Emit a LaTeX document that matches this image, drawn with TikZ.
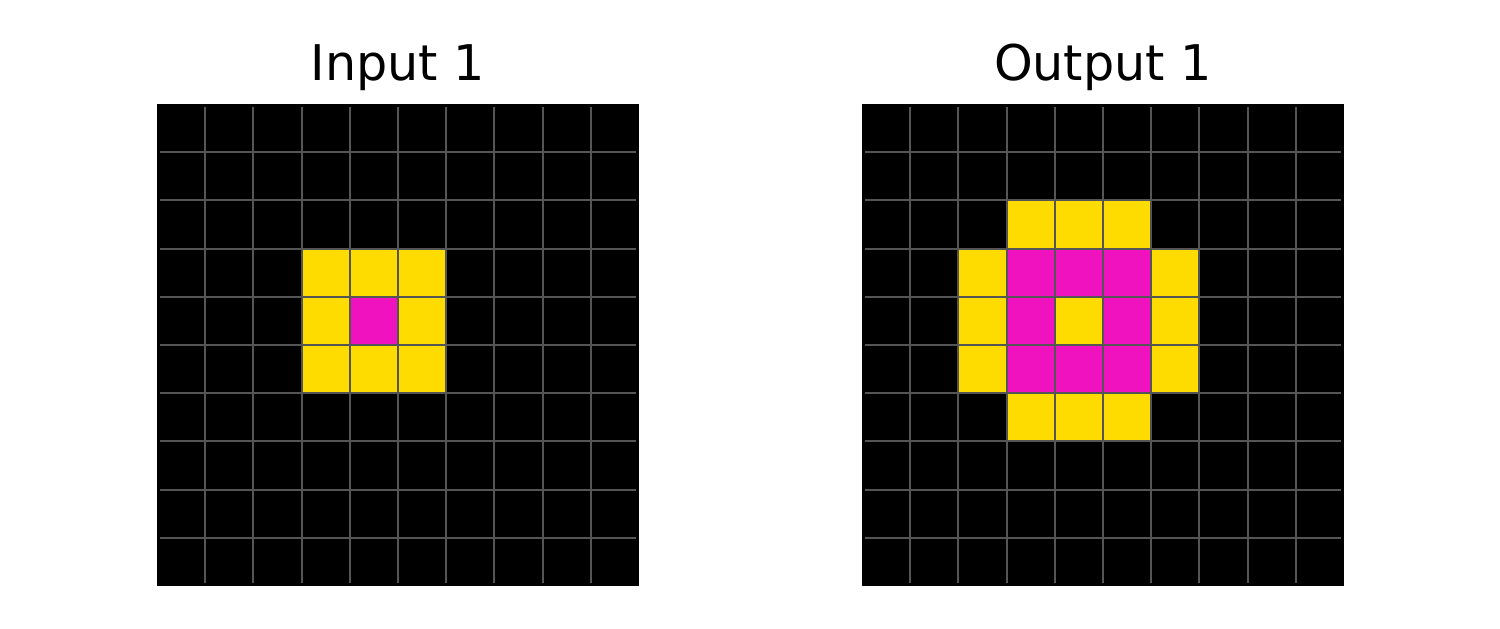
\documentclass[tikz,border=0pt]{standalone}
\usepackage{fontspec}
\setmainfont{DejaVu Sans}
\usetikzlibrary{positioning}
\definecolor{arcyellow}{HTML}{FFDC00}
\definecolor{arcmagenta}{HTML}{F012BE}
\definecolor{gridgray}{HTML}{555555}

\tikzset{
  title/.style={font=\fontsize{14}{17}\selectfont, text=black, anchor=base, inner sep=0pt},
  gridline/.style={gridgray, line width=0.6pt}
}
\def\cs{0.482}

\begin{document}
\begin{tikzpicture}[x=1cm, y=1cm]

% Canvas
\useasboundingbox (0,0) rectangle (15,6.29);

% Titles
\node[title] (intitle) at (3.98,5.48) {Input 1};
\node[title] (outtitle) at (11.03,5.48) {Output 1};

% Input grid
\begin{scope}[shift={(1.57,0.43)}]
  \fill[black] (0,0) rectangle (10*\cs,10*\cs);
  \foreach \c/\r in {3/3,4/3,5/3,3/4,5/4,3/5,4/5,5/5}
    \fill[arcyellow] ({\c*\cs},{(9-\r)*\cs}) rectangle ++(\cs,\cs);
  \fill[arcmagenta] ({4*\cs},{5*\cs}) rectangle ++(\cs,\cs);
  \foreach \k in {1,...,9} {
    \draw[gridline] ({\k*\cs},0.03) -- ({\k*\cs},{10*\cs-0.03});
    \draw[gridline] (0.03,{\k*\cs}) -- ({10*\cs-0.03},{\k*\cs});
  }
\end{scope}

% Output grid
\begin{scope}[shift={(8.62,0.43)}]
  \fill[black] (0,0) rectangle (10*\cs,10*\cs);
  \foreach \c/\r in {3/2,4/2,5/2,2/3,6/3,2/4,4/4,6/4,2/5,6/5,3/6,4/6,5/6}
    \fill[arcyellow] ({\c*\cs},{(9-\r)*\cs}) rectangle ++(\cs,\cs);
  \foreach \c/\r in {3/3,4/3,5/3,3/4,5/4,3/5,4/5,5/5}
    \fill[arcmagenta] ({\c*\cs},{(9-\r)*\cs}) rectangle ++(\cs,\cs);
  \foreach \k in {1,...,9} {
    \draw[gridline] ({\k*\cs},0.03) -- ({\k*\cs},{10*\cs-0.03});
    \draw[gridline] (0.03,{\k*\cs}) -- ({10*\cs-0.03},{\k*\cs});
  }
\end{scope}

\end{tikzpicture}
\end{document}
